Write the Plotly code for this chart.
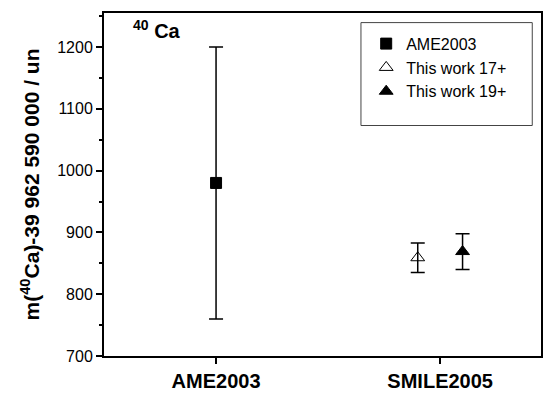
import plotly.graph_objects as go

# Data
categories = ["AME2003", "SMILE2005"]
cat_pos = [1, 2]

ame_x = [1.0]
ame_y = [980]
ame_err = [220]

w17_x = [1.9]
w17_y = [859]
w17_err = [24]

w19_x = [2.1]
w19_y = [869]
w19_err = [29]

FONT = "Liberation Sans, Arial, Helvetica, sans-serif"

fig = go.Figure()

def add(x, y, err, name, symbol, size):
    fig.add_trace(go.Scatter(
        x=x, y=y, mode="markers", name=name,
        marker=dict(symbol=symbol, size=size, color="black",
                    line=dict(color="black", width=1)),
        error_y=dict(type="data", array=err, visible=True,
                     color="black", thickness=1.5, width=7),
    ))

add(ame_x, ame_y, ame_err, "AME2003", "square", 11)
add(w17_x, w17_y, w17_err, "This work 17+", "triangle-up-open", 12)
add(w19_x, w19_y, w19_err, "This work 19+", "triangle-up", 12)

fig.update_layout(
    width=544, height=393,
    margin=dict(l=104, r=1, t=13, b=31),
    paper_bgcolor="white", plot_bgcolor="white",
    font=dict(family=FONT, color="black", size=16),
    showlegend=True,
    legend=dict(x=0.6, y=0.96, xanchor="left", yanchor="top",
                bgcolor="rgba(0,0,0,0)", borderwidth=0,
                font=dict(size=16, family=FONT), tracegroupgap=0),
    shapes=[dict(type="rect", xref="paper", yref="paper",
                 x0=0.588, x1=0.98, y0=0.672, y1=0.972,
                 line=dict(color="#444", width=1), fillcolor="rgba(0,0,0,0)")],
    annotations=[dict(text="<b><sup>40</sup> Ca</b>", xref="paper", yref="paper",
                      x=0.062, y=0.952, xanchor="left", yanchor="middle",
                      showarrow=False, font=dict(size=20, family=FONT))],
)

fig.update_xaxes(
    range=[0.5, 2.45], tickvals=cat_pos,
    ticktext=["<b>%s</b>" % c for c in categories],
    tickfont=dict(size=20, family=FONT),
    showline=True, linecolor="black", linewidth=2, mirror=True,
    ticks="outside", ticklen=6, tickwidth=1.5, tickcolor="black",
    showgrid=False, zeroline=False,
)
fig.update_yaxes(
    range=[700, 1255], tickvals=[700, 800, 900, 1000, 1100, 1200],
    tickfont=dict(size=16, family=FONT),
    showline=True, linecolor="black", linewidth=2, mirror=True,
    ticks="outside", ticklen=6, tickwidth=1.5, tickcolor="black",
    minor=dict(tickvals=[750, 850, 950, 1050, 1150, 1250], ticks="outside",
               ticklen=3, tickwidth=1.5, tickcolor="black"),
    showgrid=False, zeroline=False,
    title=dict(text="<b>m(<sup>40</sup>Ca)-39 962 590 000 / un</b>",
               font=dict(size=21, family=FONT), standoff=12),
)

fig.write_html("out.html")
